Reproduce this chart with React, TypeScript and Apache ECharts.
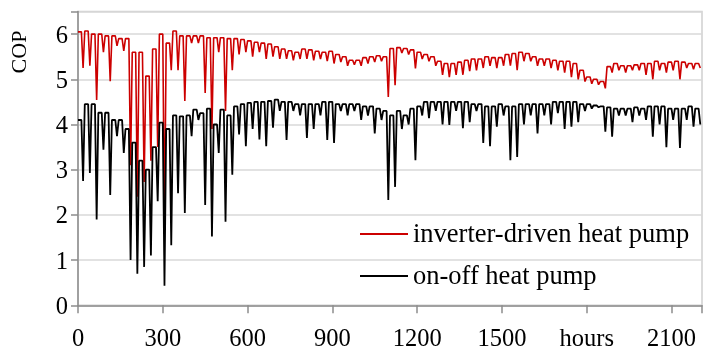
import React, { useEffect, useRef } from "react";
import * as echarts from "echarts";

// Daily peak / dip COP values (one entry per day, 92 days ≈ 2208 h)
const redPeak = [
  6.05, 6.07, 6.0, 6.0, 5.96, 5.96, 5.9, 5.9, 5.6, 5.6,
  5.07, 5.67, 6.0, 5.8, 6.07, 5.96, 5.96, 5.96, 5.96, 5.92,
  5.92, 5.92, 5.9, 5.9, 5.88, 5.85, 5.82, 5.8, 5.78, 5.72,
  5.67, 5.63, 5.6, 5.67, 5.65, 5.62, 5.6, 5.62, 5.55, 5.5,
  5.42, 5.42, 5.48, 5.5, 5.52, 5.5, 5.68, 5.7, 5.68, 5.65,
  5.6, 5.55, 5.5, 5.4, 5.35, 5.35, 5.38, 5.42, 5.45, 5.45,
  5.5, 5.48, 5.48, 5.55, 5.57, 5.6, 5.57, 5.5, 5.45, 5.45,
  5.42, 5.4, 5.4, 5.35, 5.2, 5.05, 5.0, 4.95, 5.28, 5.35,
  5.3, 5.3, 5.32, 5.35, 5.35, 5.4, 5.35, 5.38, 5.4, 5.38,
  5.35, 5.35,
];
const redDip = [
  5.25, 5.3, 4.54, 5.6, 4.96, 5.74, 5.63, 3.1, 2.4, 2.73,
  3.2, 3.5, 1.67, 5.2, 5.2, 4.52, 5.8, 5.8, 4.7, 3.9,
  5.6, 4.3, 5.2, 5.55, 5.6, 5.5, 5.6, 5.45, 5.5, 5.45,
  5.45, 5.42, 5.45, 5.45, 5.42, 5.45, 5.4, 5.35, 5.38, 5.3,
  5.32, 5.3, 5.35, 5.38, 5.4, 4.61, 4.87, 5.58, 5.55, 5.24,
  5.45, 5.4, 5.3, 5.1, 5.05, 5.1, 5.1, 5.18, 5.2, 5.25,
  5.3, 5.25, 5.3, 5.3, 5.2, 5.4, 5.4, 5.3, 5.3, 5.25,
  5.2, 5.15, 5.05, 5.0, 4.95, 4.9, 4.88, 4.8, 5.15, 5.2,
  5.15, 5.2, 5.2, 5.1, 5.0, 5.2, 5.15, 5.2, 5.0, 5.25,
  5.22, 5.25,
];
const blackPeak = [
  4.1, 4.45, 4.45, 4.26, 4.26, 4.1, 4.1, 3.9, 3.6, 3.2,
  3.0, 3.5, 4.04, 3.9, 4.2, 4.18, 4.2, 4.33, 4.25, 4.35,
  4.0, 4.33, 4.2, 4.4, 4.45, 4.48, 4.5, 4.5, 4.52, 4.55,
  4.5, 4.5, 4.45, 4.45, 4.45, 4.45, 4.5, 4.5, 4.45, 4.45,
  4.45, 4.45, 4.4, 4.4, 4.35, 4.3, 4.2, 4.3, 4.2, 4.35,
  4.4, 4.5, 4.5, 4.5, 4.5, 4.5, 4.5, 4.5, 4.45, 4.45,
  4.4, 4.4, 4.45, 4.4, 4.4, 4.45, 4.45, 4.45, 4.45, 4.45,
  4.5, 4.5, 4.5, 4.5, 4.45, 4.45, 4.42, 4.4, 4.38, 4.35,
  4.35, 4.35, 4.38, 4.35, 4.4, 4.4, 4.4, 4.35, 4.35, 4.35,
  4.4, 4.35,
];
const blackDip = [
  2.75, 2.93, 1.9, 3.44, 2.44, 3.74, 3.37, 1.0, 0.7, 0.85,
  1.1, 2.3, 0.43, 1.33, 2.48, 2.04, 3.74, 4.1, 2.22, 1.52,
  3.37, 1.85, 2.89, 3.78, 3.52, 3.9, 3.67, 3.52, 3.93, 4.3,
  3.66, 4.3, 4.2, 3.7, 3.9, 4.2, 3.66, 3.59, 4.3, 4.2,
  4.3, 4.1, 4.2, 3.8, 4.1, 2.33, 2.62, 3.9, 4.0, 3.21,
  4.2, 4.14, 4.3, 4.0, 3.99, 4.3, 3.92, 4.05, 4.3, 3.59,
  3.52, 3.95, 4.2, 3.21, 3.28, 4.0, 4.2, 3.8, 4.2, 4.0,
  4.25, 3.9, 3.95, 4.05, 4.3, 4.35, 4.38, 3.84, 3.73, 4.2,
  4.2, 4.05, 4.2, 4.1, 3.73, 4.0, 3.5, 4.1, 3.48, 4.1,
  3.95, 4.0,
];
const yTicks = [0, 1, 2, 3, 4, 5, 6];
const xTickLabels: Record<number, string> = {
  0: "0", 300: "300", 600: "600", 900: "900", 1200: "1200",
  1500: "1500", 1800: "hours", 2100: "2100",
};
const seriesNames = ["inverter-driven heat pump", "on-off heat pump"];
const seriesColors = ["#cc0000", "#000000"];

const build = (peak: number[], dip: number[]) =>
  peak.flatMap((p, i) => [
    [i * 24, p],
    [i * 24 + 12, p],
    [i * 24 + 18, dip[i]],
  ]);

const FONT = "Liberation Serif";
const txt = (size: number) => ({
  fontFamily: FONT,
  fontSize: size,
  fontStyle: "normal",
  fontWeight: "normal",
  color: "#000",
});

export default function App() {
  const ref = useRef<HTMLDivElement>(null);
  useEffect(() => {
    if (!ref.current) return;
    const chart = echarts.init(ref.current, null, { renderer: "svg" });
    chart.setOption({
      animation: false,
      grid: {
        left: 78, right: 0, top: 11.5, bottom: 46.7,
        show: true, borderColor: "#d0d0d0", borderWidth: 1.5,
      },
      xAxis: {
        type: "value",
        min: 0,
        max: 2208,
        interval: 300,
        axisLine: { lineStyle: { color: "#8c8c8c", width: 1.5 } },
        axisTick: { length: 8, lineStyle: { color: "#8c8c8c", width: 1.5 } },
        splitLine: { show: false },
        axisLabel: {
          ...txt(24.5),
          margin: 20,
          formatter: (v: number) => xTickLabels[v] ?? "",
        },
      },
      yAxis: {
        type: "value",
        min: 0,
        max: 6.5,
        interval: 1,
        axisLine: { show: true, lineStyle: { color: "#8c8c8c", width: 1.5 } },
        axisTick: { show: true, length: 7, lineStyle: { color: "#8c8c8c", width: 1.5 } },
        splitLine: { show: true, lineStyle: { color: "#d9d9d9", width: 1.5 } },
        axisLabel: {
          ...txt(24.5),
          margin: 10,
          formatter: (v: number) => (yTicks.includes(v) ? String(v) : ""),
        },
      },
      graphic: [
        ...seriesNames.flatMap((name, i) => {
          const y = 234 + i * 42;
          return [
            {
              type: "line",
              shape: { x1: 360, y1: y, x2: 408, y2: y },
              style: { stroke: seriesColors[i], lineWidth: 1.8 },
            },
            {
              type: "text",
              x: 413,
              y: y - 1,
              style: {
                text: name,
                fontFamily: FONT,
                fontSize: 26.5,
                fill: "#000",
                align: "left",
                verticalAlign: "middle",
              },
            },
          ];
        }),
        {
          type: "text",
          x: 18,
          y: 52,
          rotation: Math.PI / 2,
          style: {
            text: "COP",
            fontFamily: FONT,
            fontSize: 22,
            fill: "#000",
            align: "center",
            verticalAlign: "middle",
          },
        },
      ],
      series: [
        {
          name: seriesNames[0],
          type: "line",
          data: build(redPeak, redDip),
          symbol: "none",
          lineStyle: { color: seriesColors[0], width: 1.6 },
          itemStyle: { color: seriesColors[0] },
          z: 2,
        },
        {
          name: seriesNames[1],
          type: "line",
          data: build(blackPeak, blackDip),
          symbol: "none",
          lineStyle: { color: seriesColors[1], width: 1.8 },
          itemStyle: { color: seriesColors[1] },
          z: 3,
        },
      ],
    });
    return () => chart.dispose();
  }, []);
  return <div ref={ref} style={{ position: "fixed", left: 0, top: 0, width: 705, height: 352 }} />;
}
